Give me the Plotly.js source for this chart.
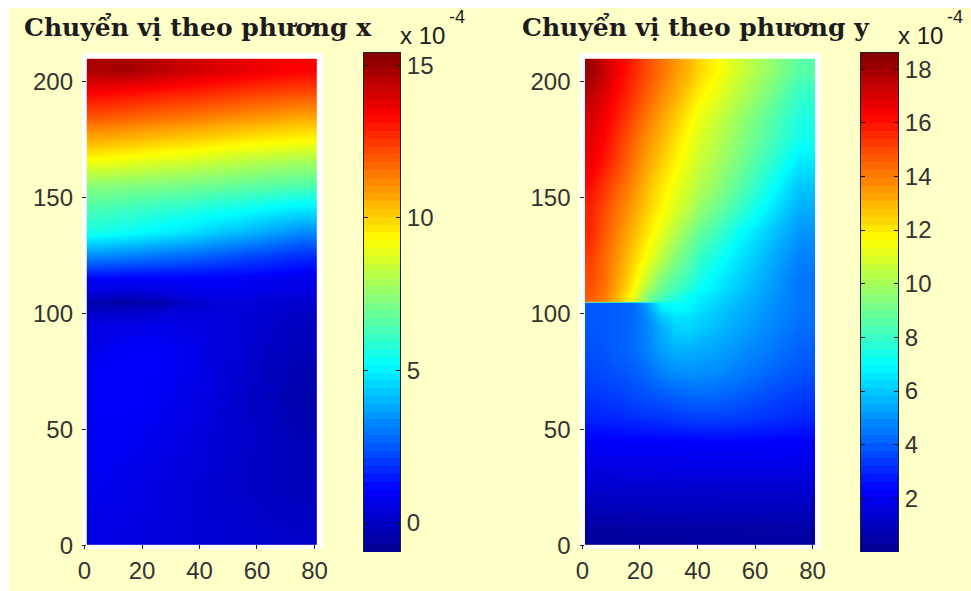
<!DOCTYPE html>
<html><head><meta charset="utf-8">
<script src="https://cdn.plot.ly/plotly-3.0.1.min.js"></script>
<style>
html,body{margin:0;padding:0;background:#fff;overflow:hidden}
#cream{position:absolute;left:9px;top:8px;right:0;height:583px;background:#FFFFC8}
#chart{position:absolute;left:0;top:0;width:971px;height:591px}
</style></head><body>
<div id="cream"></div><div id="chart"></div>
<script>
const titleX = 'Chuyển vị theo phương x';
const titleY = 'Chuyển vị theo phương y';
const xTicks = [0,20,40,60,80];
const yTicks = [0,50,100,150,200];
const cbTicksX = [0,5,10,15];
const cbTicksY = [2,4,6,8,10,12,14,16,18];
const cbRangeX = [-0.95,15.4];
const cbRangeY = [0,18.6];

const xEdgesX = [0.8,10,20,30,40,50,60,70,80.9];
const yEdgesX = [0.7,10,20,30,40,50,60,70,80,90,100,104,106,110,120,130,140,150,160,170,180,190,200,209.9];
const zX = [
[.6,.55,.45,.35,.3,.2,.15,.1],
[.75,.65,.5,.35,.25,.15,.05,-.05],
[.85,.7,.55,.4,.25,.1,-.05,-.2],
[.9,.8,.65,.45,.3,.1,-.05,-.25],
[.95,.9,.75,.55,.35,.15,-.05,-.25],
[1,1,.85,.65,.4,.15,-.1,-.4],
[1,1.09,.95,.7,.45,.15,-.15,-.45],
[1,1.09,1,.8,.5,.2,-.1,-.35],
[.8,1,1,.8,.5,.3,0,-.2],
[.6,.6,.7,.6,.5,.35,.15,-.1],
[-.1,-.05,.1,.35,.4,.4,.3,.1],
[-.45,-.6,-.6,0,.35,.4,.3,.2],
[.1,.05,.2,.5,.6,.6,.5,.4],
[1,.95,.95,.95,.95,.9,.8,.7],
[3.3,3.15,2.95,2.8,2.55,2.3,2.05,1.8],
[5.5,5.3,5,4.75,4.4,4.1,3.7,3.3],
[6.35,6.15,5.95,5.75,5.5,5.3,5.05,4.8],
[7.3,7.2,7.1,7,6.85,6.7,6.55,6.4],
[8.95,8.8,8.6,8.45,8.25,8.05,7.85,7.7],
[10.5,10.35,10.15,10,9.8,9.6,9.45,9.3],
[12,11.85,11.65,11.5,11.3,11.1,10.9,10.7],
[13.3,13.15,12.95,12.8,12.6,12.4,12.25,12.1],
[14.7,14.8,14.5,14.2,13.95,13.75,13.55,13.4]
];

const xEdgesY = [0.87,5,10,15,20,25,30,35,40,50,60,70,80.9];
const yEdgesY = [0.7,10,20,30,40,50,60,70,80,90,100,104.5,105,105.5,110,120,130,140,150,160,170,180,190,200,209.9];
const zY = [
[.3,.3,.3,.32,.32,.33,.34,.35,.36,.38,.4,.4],
[.8,.8,.82,.83,.84,.85,.86,.87,.88,.9,.9,.9],
[1.28,1.28,1.3,1.3,1.3,1.32,1.33,1.33,1.35,1.35,1.35,1.35],
[1.8,1.8,1.8,1.82,1.82,1.83,1.84,1.85,1.85,1.85,1.85,1.85],
[2.25,2.25,2.27,2.28,2.3,2.3,2.32,2.33,2.35,2.35,2.33,2.3],
[2.9,2.95,3,3.1,3.2,3.25,3.35,3.45,3.5,3.4,3.2,3],
[3.3,3.4,3.5,3.65,3.8,3.95,4.1,4.25,4.25,4,3.7,3.4],
[3.6,3.7,3.85,4,4.3,4.7,4.9,5,4.9,4.6,4.2,3.85],
[3.8,3.9,4.1,4.3,4.7,5.3,5.6,5.6,5.4,5,4.55,4.1],
[3.9,3.95,4.05,4.25,4.8,5.6,6.3,6.3,5.9,5.35,4.85,4.35],
[3.9,3.95,4.05,4.2,5.1,6.7,7,6.8,6.2,5.6,5,4.45],
[3.9,3.95,4.05,4.25,5.4,7,7.1,6.9,6.3,5.65,5.05,4.45],
[14.5,13.8,12.8,11.4,9.5,7.6,7.2,6.95,6.35,5.7,5.1,4.45],
[14.65,14.05,12.8,11.35,9.25,8.3,7.6,7.05,6.5,5.75,5.1,4.45],
[14.9,14.3,13.25,12,10.6,9.25,8.55,7.9,6.9,6.1,5.3,4.45],
[15.15,14.4,13.5,12.5,11.5,10.45,9.4,8.65,7.55,6.5,5.6,4.7],
[15.55,14.7,13.8,12.95,12.05,11.15,10.25,9.4,8.35,7,6.05,5.05],
[15.65,14.9,14.1,13.3,12.5,11.7,10.95,10.25,9.15,7.9,6.65,5.5],
[16.05,15.3,14.5,13.7,12.85,12,11.3,10.7,9.8,8.55,7.25,5.95],
[16.5,15.85,15,14.1,13.3,12.5,11.7,11.1,10.2,9.05,7.85,6.55],
[16.75,16.2,15.3,14.45,13.6,12.9,12.1,11.4,10.55,9.4,8.35,7.25],
[17.05,16.5,15.7,14.9,14.1,13.3,12.6,11.8,10.9,9.75,8.65,7.55],
[17.5,16.9,16.1,15.3,14.55,13.8,13.1,12.4,11.4,10.3,9.2,7.95],
[18.1,17.3,16.4,15.65,14.9,14.2,13.5,12.9,11.9,10.7,9.7,8.6]
];

const jet = [[0,'rgb(0,0,143)'],[.125,'rgb(0,0,255)'],[.375,'rgb(0,255,255)'],[.625,'rgb(255,255,0)'],[.875,'rgb(255,0,0)'],[1,'rgb(128,0,0)']];
const W = 971, H = 591, BANDS = 64;
const inkColor = '#333333';
const labelFont = {family:'"Liberation Sans", Arial, sans-serif', size:24, color:inkColor};
const hx = (a,b)=>[a/W,b/W], vy = (top,bot)=>[1-bot/H,1-top/H];

function mainTrace(xe,ye,z,r,xa,ya){
  return {type:'heatmap',x:xe,y:ye,z:z,zmin:r[0],zmax:r[1],zsmooth:'best',colorscale:jet,showscale:false,xaxis:xa,yaxis:ya,hoverongaps:false};
}
function barTrace(r,xa,ya){
  const edges=[],z=[];
  const step=(r[1]-r[0])/BANDS;
  for(let i=0;i<=BANDS;i++)edges.push(r[0]+i*step);
  for(let i=0;i<BANDS;i++)z.push([r[0]+(i+.5)*step]);
  return {type:'heatmap',x:[0,1],y:edges,z:z,zmin:r[0],zmax:r[1],colorscale:jet,showscale:false,xaxis:xa,yaxis:ya};
}
const xAxisMain=(dom,range,anchor)=>({domain:dom,range:range,anchor:anchor,tickmode:'array',tickvals:xTicks,ticks:'inside',ticklen:4,tickcolor:'#222',tickfont:labelFont,showgrid:false,zeroline:false,showline:false,ticklabelstandoff:5});
const yAxisMain=(dom,anchor)=>({domain:dom,range:[-1.3,212.4],anchor:anchor,tickmode:'array',tickvals:yTicks,ticks:'inside',ticklen:4,tickcolor:'#222',tickfont:labelFont,showgrid:false,zeroline:false,showline:false,ticklabelstandoff:8});
const xAxisBar=(dom,anchor)=>({domain:dom,range:[0,1],anchor:anchor,side:'top',showticklabels:false,ticks:'',showgrid:false,zeroline:false,showline:true,linecolor:'#222',linewidth:1});
const yAxisBar=(dom,anchor,r,t)=>({domain:dom,range:r,anchor:anchor,side:'right',tickmode:'array',tickvals:t,ticks:'inside',ticklen:4,tickcolor:'#111',tickfont:labelFont,showgrid:false,zeroline:false,showline:true,mirror:'ticks',linecolor:'#222',linewidth:1,ticklabelstandoff:1});

const data=[
  mainTrace(xEdgesX,yEdgesX,zX,cbRangeX,'x','y'),
  barTrace(cbRangeX,'x2','y2'),
  mainTrace(xEdgesY,yEdgesY,zY,cbRangeY,'x3','y3'),
  barTrace(cbRangeY,'x4','y4')
];
const note=(text,px,py,size,font,anchor)=>({text:text,xref:'paper',yref:'paper',x:px/W,y:1-py/H,xanchor:anchor||'left',yanchor:'middle',showarrow:false,font:{family:font,size:size,color:'#1c1c1c'}});
const sans='"Liberation Sans", Arial, sans-serif', serif='"DejaVu Serif", serif';
const layout={
  width:W,height:H,margin:{l:0,r:0,t:0,b:0},paper_bgcolor:'rgba(0,0,0,0)',plot_bgcolor:'#fff',showlegend:false,
  xaxis:xAxisMain(hx(82,323),[-0.87,82.96],'y'),
  yaxis:yAxisMain(vy(53,549),'x'),
  xaxis2:xAxisBar(hx(363.5,400),'y2'),
  yaxis2:yAxisBar(vy(53,552),'x2',cbRangeX,cbTicksX),
  xaxis3:xAxisMain(hx(579.5,820.7),[-1.04,82.85],'y3'),
  yaxis3:yAxisMain(vy(53,549),'x3'),
  xaxis4:xAxisBar(hx(861,898),'y4'),
  yaxis4:yAxisBar(vy(53,552),'x4',cbRangeY,cbTicksY),
  annotations:[
    note('<b>'+titleX+'</b>',22,28,25,serif),
    note('<b>'+titleY+'</b>',520,28,25,serif),
    note('x 10',398,36,24,sans), note('-4',447,17,18,sans),
    note('x 10',896,36,24,sans), note('-4',945,17,18,sans)
  ]
};
Plotly.newPlot('chart',data,layout,{displayModeBar:false,staticPlot:true});
</script>
</body></html>
